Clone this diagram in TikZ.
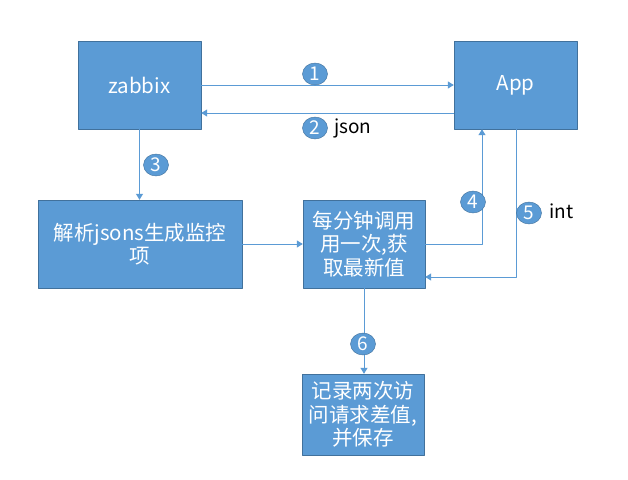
\documentclass[tikz,border=0pt]{standalone}
\usepackage{fontspec}
\setmainfont{Noto Sans CJK SC}
\usetikzlibrary{arrows.meta, calc, shapes.geometric}
\definecolor{boxblue}{HTML}{5B9BD5}
\definecolor{boxedge}{HTML}{41719C}
\tikzset{
	box/.style={draw=boxedge, fill=boxblue, text=white, inner sep=0pt, align=center,
		font=\fontsize{20.5}{23.5}\selectfont},
	num/.style={ellipse, draw=boxedge, fill=boxblue, text=white, minimum width=25pt, minimum height=22pt,
		inner sep=0pt, font=\fontsize{19}{19}\selectfont},
	flow/.style={->, draw=boxblue, line width=1pt},
	tag/.style={anchor=west, inner sep=0pt, font=\fontsize{19}{19}\selectfont}
}

\begin{document}
\begin{tikzpicture}[x=1pt, y=-1pt, >={Triangle[width=7pt,length=6pt]}, line join=round]
		
		% white page with the reference margins
		\fill[white] (0,0) rectangle (628,479);
		\useasboundingbox (0,0) rectangle (628,479);
		
		% ===== boxes =====
		\node[box, minimum width=123pt, minimum height=88pt] (zabbix) at (139.5,85) {zabbix};
		\node[box, minimum width=123pt, minimum height=88pt] (app) at (515.5,85) {App};
		\node[box, minimum width=204pt, minimum height=88pt] (parse) at (140,244) {解析jsons生成监控\\项};
		\node[box, minimum width=122pt, minimum height=88pt] (poll) at (364,244) {每分钟调用\\用一次,获\\取最新值};
		\node[box, minimum width=122pt, minimum height=81pt] (record) at (363,414.5) {记录两次访\\问请求差值,\\并保存};
		
		% ===== connectors =====
		\draw[flow] (zabbix.east) -- (app.west);
		\draw[flow] (app.west |- 0,113) -- (zabbix.east |- 0,113);
		\draw[flow] (zabbix.south) -- (zabbix.south |- parse.north);
		\draw[flow] (parse.east) -- (poll.west);
		\draw[flow] (poll.east) -| ($(app.south)+(-33.5,0)$);
		\draw[flow] ($(app.south)+(0.5,0)$) |- ($(poll.east)+(0,33)$);
		\draw[flow] (poll.south) -- (poll.south |- record.north);
		
		% step numbers
		\node[num] (n1) at (315,74) {1};
		\node[num] (n2) at (315,128) {2};
		\node[num] (n3) at (156,165) {3};
		\node[num] (n4) at (473,202) {4};
		\node[num] (n5) at (529,213) {5};
		\node[num] (n6) at (363,344) {6};
		\node[tag] (json) at (334,128) {json};
		\node[tag] (int) at (549,211) {int};
		
	\end{tikzpicture}
\end{document}
